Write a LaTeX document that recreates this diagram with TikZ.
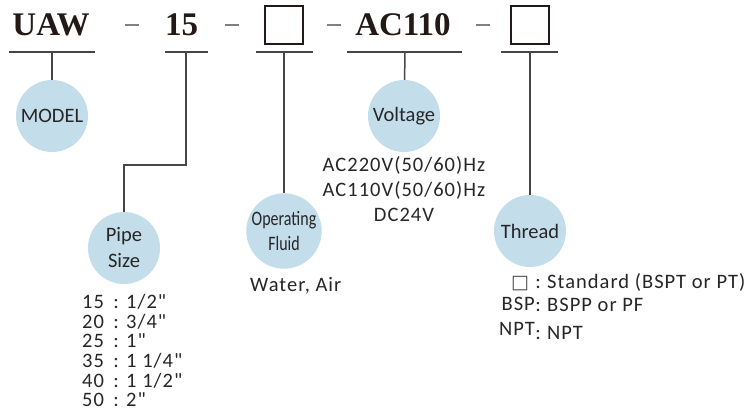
\documentclass[tikz,border=0pt]{standalone}
\usepackage{fontspec}
\usepackage{graphicx}
\setmainfont{Carlito}
\newfontfamily\notefont{Carlito}[LetterSpace=5]
\newfontfamily\codefont{Liberation Serif}
\newfontfamily\symfont{DejaVu Sans}
\usetikzlibrary{positioning}
\definecolor{bubbleblue}{RGB}{196,221,235}
\definecolor{linegray}{RGB}{70,70,70}
\definecolor{inkblack}{RGB}{35,25,22}

\begin{document}
\begin{tikzpicture}[
    x=1pt, y=-1pt,
    code/.style={inner sep=0pt, anchor=base, text=inkblack, font=\codefont\bfseries\fontsize{33}{33}\selectfont},
    blank/.style={draw=inkblack, line width=1.4pt, minimum size=38pt, inner sep=0pt},
    bar/.style={linegray, line width=1.5pt},
    sep/.style={gray, line width=1.3pt},
    link/.style={linegray, line width=1.5pt},
    bubble/.style={circle, fill=bubbleblue, minimum size=72pt, inner sep=0pt, align=center, text=black!85, font=\fontsize{20.5}{26}\selectfont},
    note/.style={inner sep=0pt, anchor=base, text=black!85, font=\notefont\fontsize{20.5}{25}\selectfont}
]
    \useasboundingbox (0,0) rectangle (750,414);

    % model code
    \node[code]  (uaw)       at (51,36)   {UAW};
    \node[code]  (size)      at (181.5,36) {15};
    \node[blank] (fluidbox)  at (284,25)  {};
    \node[code]  (volt)      at (403,36)  {AC110};
    \node[blank] (threadbox) at (530,25)  {};

    \foreach \a/\b in {9/95, 165/208, 256/313, 347/462, 501/558}
        \draw[bar] (\a,52) -- (\b,52);
    \foreach \x in {125, 225, 327, 476}
        \draw[sep] (\x,25) -- ++(14,0);

    \coordinate (uawfoot)    at (52,52);
    \coordinate (sizefoot)   at (186,52);
    \coordinate (fluidfoot)  at (284,52);
    \coordinate (voltfoot)   at (405,52);
    \coordinate (threadfoot) at (530,52);

    % bubbles
    \node[bubble] (model)   at (52,116)  {MODEL};
    \node[bubble] (pipe)    at (124,248) {Pipe\\Size};
    \node[bubble, font=\fontsize{20.5}{25}\selectfont] (fluid) at (284,231) {\scalebox{0.78}[1]{Operating}\\\scalebox{0.78}[1]{Fluid}};
    \node[bubble] (voltage) at (404,116) {Voltage};
    \node[bubble] (thread)  at (530,231) {Thread};

    \draw[link] (uawfoot) -- (model);
    \draw[link] (sizefoot) -- ++(0,113) -| (pipe.north);
    \draw[link] (fluidfoot) -- (fluid);
    \draw[link] (voltfoot) -- (voltage);
    \draw[link] (threadfoot) -- (thread);

    % options
    \foreach \txt [count=\i] in {{AC220V(50/60)Hz}, {AC110V(50/60)Hz}, {DC24V}}
        \node[note] (volt\i) at (404,{147+25*\i}) {\txt};

    \node[note, anchor=base west] (medium) at (250,291) {Water, Air};

    \foreach \sz/\inch [count=\i] in {15/{1/2"}, 20/{3/4"}, 25/{1"}, 35/{1 1/4"}, 40/{1 1/2"}, 50/{2"}} {
        \node[note, anchor=base west] (sz\i)   at (82,{288.6+19.7*\i})  {\sz};
        \node[note]                   (col\i)  at (116,{288.6+19.7*\i}) {:};
        \node[note, anchor=base west] (inch\i) at (126,{288.6+19.7*\i}) {\inch};
    }

    \node[note, font=\symfont\fontsize{19}{19}\selectfont, text=black!70] (std) at (520,288) {□};
    \node[note] (stdcol) at (538,288) {:};
    \node[note, anchor=base west] (stdval) at (547,288) {Standard (BSPT or PT)};
    \node[note, anchor=base east] (bsp) at (535,310) {BSP};
    \node[note] (bspcol) at (538,312) {:};
    \node[note, anchor=base west] (bspval) at (547,312) {BSPP or PF};
    \node[note, anchor=base east] (npt) at (535,335) {NPT};
    \node[note] (nptcol) at (538,339) {:};
    \node[note, anchor=base west] (nptval) at (547,339) {NPT};
\end{tikzpicture}
\end{document}
